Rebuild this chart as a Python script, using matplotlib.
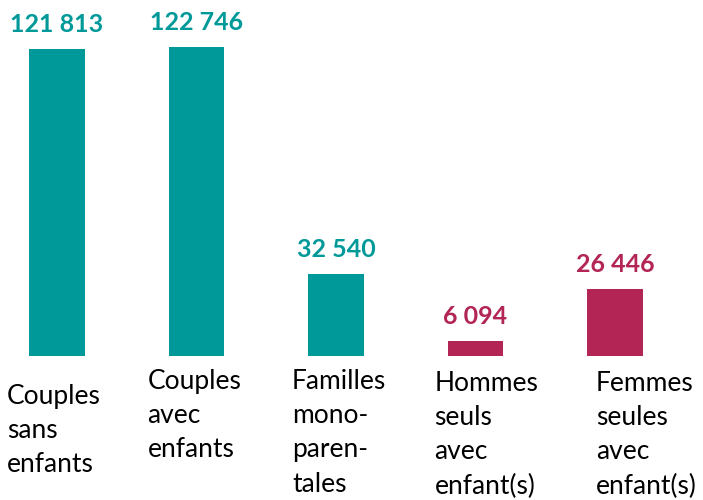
import matplotlib.pyplot as plt

plt.rcParams['font.family'] = ['Lato', 'DejaVu Sans']

categories = ['Couples\nsans\nenfants', 'Couples\navec\nenfants', 'Familles\nmono-\nparen-\ntales',
              'Hommes\nseuls\navec\nenfant(s)', 'Femmes\nseules\navec\nenfant(s)']
values = [121813, 122746, 32540, 6094, 26446]
value_labels = ['121 813', '122 746', '32 540', '6 094', '26 446']

teal = '#009999'
crimson = '#B32554'
colors = [teal, teal, teal, crimson, crimson]

# label placement (pixels relative to bar centre / baseline)
cat_dx = [-50, -49, -44, -41, -19]
cat_dy = [-28, -13, -13, -15, -15]

fig = plt.figure(figsize=(7.03, 5.00), dpi=100)
ax = fig.add_axes([1.2 / 703, 144 / 500, 697.5 / 703, 356 / 500])

x = range(len(values))
ax.bar(x, values, width=0.40, color=colors)
ax.set_xlim(-0.4, 4.6)
ax.set_ylim(0, 356 / 0.00252)
ax.axis('off')

for i, v in enumerate(values):
    ax.annotate(value_labels[i], xy=(i, v), xytext=(0, 17), textcoords='offset pixels',
                ha='center', va='baseline', fontsize=18, fontweight='bold', color=colors[i])
    ax.annotate(categories[i], xy=(i, 0), xytext=(cat_dx[i], cat_dy[i]), textcoords='offset pixels',
                ha='left', va='top', fontsize=19, linespacing=1.46, color='black',
                annotation_clip=False)

fig.savefig('out.png', dpi=100)
